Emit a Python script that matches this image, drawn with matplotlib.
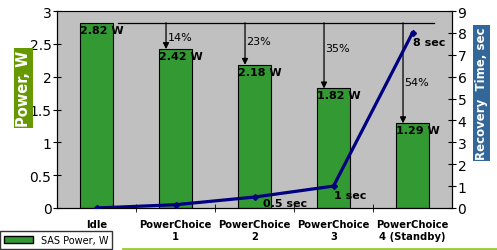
import matplotlib.pyplot as plt
import matplotlib.patches as mpatches
import numpy as np

categories = ['Idle', 'PowerChoice\n1', 'PowerChoice\n2', 'PowerChoice\n3', 'PowerChoice\n4 (Standby)']
power = [2.82, 2.42, 2.18, 1.82, 1.29]
power_labels = ['2.82 W', '2.42 W', '2.18 W', '1.82 W', '1.29 W']
recovery = [0.0, 0.15, 0.5, 1.0, 8.0]
savings = ['', '14%', '23%', '35%', '54%']
recovery_labels = ['', '', '0.5 sec', '1 sec', '8 sec']

bar_green = '#339933'
line_blue = '#000080'

fig = plt.figure(figsize=(4.97, 2.51), dpi=100)
ax = fig.add_axes([57 / 497, 1 - 209 / 251, 395 / 497, 197 / 251])
ax.set_facecolor('#c0c0c0')

x = np.arange(len(categories))
ax.bar(x, power, width=0.41, color=bar_green, edgecolor='black', linewidth=0.8, zorder=2)
ax.set_xlim(-0.5, len(categories) - 0.5)
ax.set_ylim(0, 3)
ax.set_yticks(np.arange(0, 3.01, 0.5))
ax.set_yticklabels(['0', '0.5', '1', '1.5', '2', '2.5', '3'])
ax.set_xticks(x)
ax.set_xticklabels(categories, fontsize=7.2, fontweight='bold')
ax.set_xticks(np.arange(0.5, len(categories) - 0.5, 1), minor=True)
ax.tick_params(axis='x', which='major', length=0, pad=8)
ax.tick_params(axis='x', which='minor', length=6, direction='inout', color='black')
ax.tick_params(axis='y', labelsize=10, length=6, direction='inout', pad=1)
for lbl in ax.get_xticklabels():
    lbl.set_linespacing(1.25)
for s in ['left', 'bottom', 'right']:
    ax.spines[s].set_color('black')
ax.spines['top'].set_color('#808080')

# value labels inside bars
for xi, v, lbl in zip(x, power, power_labels):
    ax.text(xi - 0.205, v - 0.03, lbl, fontsize=8, fontweight='bold', ha='left', va='top', zorder=4)

# horizontal reference line at idle power and arrows down to each bar
ax.plot([0.27, 4.27], [power[0], power[0]], color='black', lw=0.9, zorder=3)
for xi, v in zip(x[1:], power[1:]):
    ax_x = xi - 0.12
    ax.annotate('', xy=(ax_x, v), xytext=(ax_x, power[0]),
                arrowprops=dict(arrowstyle='-|>', color='black', lw=0.9,
                                mutation_scale=9, shrinkA=0, shrinkB=0), zorder=3)
offsets = [None, 2.6, 2.54, 2.44, 1.92]
for xi, s, off in zip(x[1:], savings[1:], offsets[1:]):
    ax.text(xi - 0.10, off, s, fontsize=8, ha='left', va='center', zorder=4)

# recovery time on right axis
ax2 = ax.twinx()
ax2.plot(x, recovery, color=line_blue, lw=2.3, marker='D', markersize=3, zorder=5)
ax2.set_ylim(0, 9)
ax2.set_yticks(range(0, 10))
ax2.tick_params(axis='y', labelsize=10, length=6, direction='inout', pad=1)
ax2.text(x[2] + 0.11, 0.23, recovery_labels[2], fontsize=8,
         fontweight='bold', ha='left', va='center')
ax2.text(x[3], 0.6, recovery_labels[3], fontsize=8,
         fontweight='bold', ha='left', va='center')
ax2.text(x[4] + 0.01, 7.6, recovery_labels[4], fontsize=8,
         fontweight='bold', ha='left', va='center')

# axis titles in coloured boxes
fig.text(23.5 / 497, 1 - 89 / 251, 'Power, W', rotation=90, ha='center', va='center',
         fontsize=10.5, fontweight='bold', color='white',
         bbox=dict(boxstyle='square,pad=0.12', facecolor='#669900', edgecolor='none'))
fig.text(481.5 / 497, 1 - 94 / 251, 'Recovery  Time, sec', rotation=90, ha='center', va='center',
         fontsize=8.5, fontweight='bold', color='white',
         bbox=dict(boxstyle='square,pad=0.15', facecolor='#336699', edgecolor='none'))

# bottom green rule and legend
fig.add_artist(plt.Line2D([123 / 497, 1], [1.5 / 251, 1.5 / 251], color='#99cc33', lw=2))
handle = mpatches.Patch(facecolor=bar_green, edgecolor='black', label='SAS Power, W')
fig.legend(handles=[handle], loc='upper left', bbox_to_anchor=(0, 1 - 232 / 251), fontsize=7,
           frameon=True, fancybox=False, edgecolor='black', handlelength=3.0,
           handleheight=0.6, borderpad=0.4, borderaxespad=0)

fig.savefig('out.png', dpi=100)
